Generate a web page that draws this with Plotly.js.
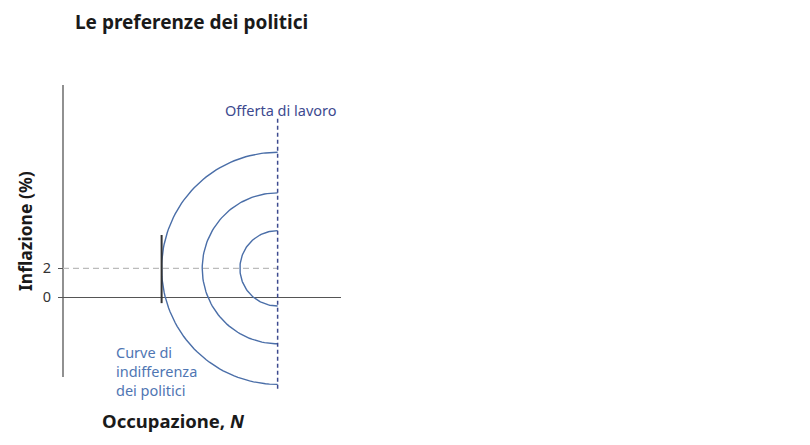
<!DOCTYPE html>
<html>
<head>
<meta charset="utf-8">
<script src="https://cdn.plot.ly/plotly-3.0.1.min.js"></script>
<style>body{margin:0;background:#fff}</style>
</head>
<body>
<div id="grafico" style="width:810px;height:445px"></div>
<script>
// dati
var centro = [14.8, 2];          // occupazione di piena, inflazione obiettivo
var raggi = [8, 5.2, 2.6];       // curve di indifferenza
var offertaX = [14.8, 14.8];
var offertaY = [-6.3, 12.4];
var obiettivoX = [0, 14.8];
var obiettivoY = [2, 2];
var segmentoX = [6.8, 6.8];
var segmentoY = [-0.4, 4.3];
var asseY_X = [0, 0];
var asseY_Y = [-5.5, 14.64];
var tickY = [0, 2];
var tickTesto = ['0', '2'];

var bluScuro = '#3d4a8f';
var bluCurve = '#4a6ea8';
var font = 'Noto Sans, Open Sans, sans-serif';

function semicerchio(cx, cy, r) {
  var xs = [], ys = [];
  for (var a = 90; a <= 270; a += 2) {
    var t = a * Math.PI / 180;
    xs.push(cx + r * Math.cos(t));
    ys.push(cy + r * Math.sin(t));
  }
  return {x: xs, y: ys};
}

var data = [];
data.push({x: asseY_X, y: asseY_Y, mode: 'lines', line: {color: '#555', width: 1.3}, hoverinfo: 'skip'});
data.push({x: obiettivoX, y: obiettivoY, mode: 'lines', line: {color: '#bbbbbb', width: 1.3, dash: '6px,4px'}, hoverinfo: 'skip'});
for (var i = 0; i < raggi.length; i++) {
  var s = semicerchio(centro[0], centro[1], raggi[i]);
  data.push({x: s.x, y: s.y, mode: 'lines', line: {color: bluCurve, width: 1.4}, hoverinfo: 'skip'});
}
data.push({x: offertaX, y: offertaY, mode: 'lines', line: {color: bluScuro, width: 1.5, dash: '4px,3px'}, hoverinfo: 'skip'});
data.push({x: segmentoX, y: segmentoY, mode: 'lines', line: {color: '#333', width: 2}, hoverinfo: 'skip'});

var layout = {
  width: 810,
  height: 445,
  showlegend: false,
  paper_bgcolor: '#fff',
  plot_bgcolor: '#fff',
  margin: {l: 60, r: 469, t: 85, b: 56},
  font: {family: font, color: '#222'},
  title: {
    text: '<b>Le preferenze dei politici</b>',
    font: {family: font, size: 19, color: '#1a1a1a'},
    x: 75 / 810, xref: 'container', xanchor: 'left',
    y: 1 - 22 / 445, yref: 'container', yanchor: 'middle'
  },
  xaxis: {
    range: [-0.207, 19.17],
    showgrid: false, zeroline: false, showline: false,
    showticklabels: false, ticks: ''
  },
  yaxis: {
    range: [-6.32, 14.64],
    anchor: 'free', position: 3 / 281,
    showgrid: false, showline: false,
    zeroline: true, zerolinecolor: '#555', zerolinewidth: 1.3,
    tickmode: 'array', tickvals: tickY, ticktext: tickTesto,
    ticks: 'outside', ticklen: 5, tickcolor: '#555', tickwidth: 1.2,
    ticklabelstandoff: 4,
    tickfont: {family: font, size: 14.5, color: '#333'}
  },
  annotations: [
    {x: 15.05, y: 12.95, xref: 'x', yref: 'y', text: 'Offerta di lavoro', showarrow: false,
     font: {family: font, size: 14.5, color: bluScuro}, xanchor: 'center', yanchor: 'middle'},
    {x: 3.5, y: -5.08, xref: 'x', yref: 'y', text: 'Curve di<br>indifferenza<br>dei politici', showarrow: false,
     align: 'left', font: {family: font, size: 14.5, color: '#4f76b3'}, xanchor: 'left', yanchor: 'middle'},
    {x: (173 - 60) / 281, y: -(420 - 389) / 304, xref: 'paper', yref: 'paper', text: '<b>Occupazione, <i>N</i></b>', showarrow: false,
     font: {family: font, size: 18.5, color: '#1a1a1a'}, xanchor: 'center', yanchor: 'middle'},
    {x: (25 - 60) / 281, y: (389 - 231) / 304, xref: 'paper', yref: 'paper', text: '<b>Inflazione (%)</b>', showarrow: false,
     textangle: -90, font: {family: font, size: 17.5, color: '#1a1a1a'}, xanchor: 'center', yanchor: 'middle'}
  ]
};

Plotly.newPlot('grafico', data, layout, {displayModeBar: false, staticPlot: true});
</script>
</body>
</html>
